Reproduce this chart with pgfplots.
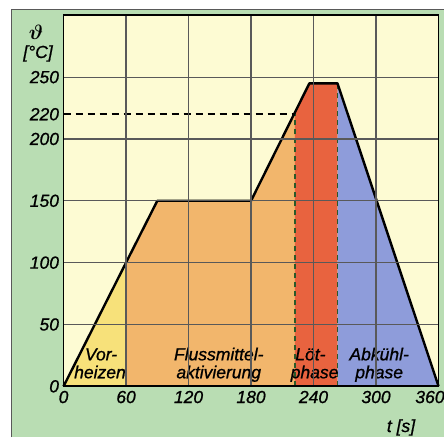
\documentclass[border=0pt]{standalone}
\usepackage{pgfplots}
\pgfplotsset{compat=1.18}
\usepackage{bm}
\usepackage{fontspec}
\setmainfont{Liberation Sans}
\newfontfamily\lfont{Liberation Sans}[UprightFeatures={FakeBold=0.9}, ItalicFeatures={FakeBold=0.9}]
\definecolor{bgy}{HTML}{FDFBD3}
\definecolor{bgg}{HTML}{B9DDB3}
\definecolor{fy}{HTML}{F7E17A}
\definecolor{fo}{HTML}{F2B66C}
\definecolor{fr}{HTML}{E8633F}
\definecolor{fb}{HTML}{8E9CDA}
\definecolor{dg}{HTML}{2A5A2A}
\newcommand{\lf}{\fontsize{17.5}{19}\lfont\itshape}
\begin{document}
\begin{tikzpicture}[x=1pt,y=1pt]
\path[use as bounding box] (0,0) rectangle (444,437);
\fill[white] (0,0) rectangle (444,437);
\fill[bgg] (11,0) rectangle (444,427);
\draw[gray!70!black, line width=1pt] (11,0) -- (11,427) -- (444,427);
\begin{axis}[
  at={(61,41)}, anchor=south west, scale only axis,
  width=375pt, height=371pt,
  xmin=0, xmax=360, ymin=0, ymax=300,
  xtick={0,60,120,180,240,300,360},
  xticklabels={0,60,120,180,240,300,\makebox[12pt][r]{360}},
  ytick={0,50,100,150,200,250},
  extra y ticks={220},
  extra y tick style={grid=none},
  grid=major,
  major grid style={draw=black!65, line width=1.1pt},
  tick style={draw=none},
  axis line style={line width=1.8pt, black},
  axis background/.style={fill=bgy},
  axis on top,
  /pgf/number format/assume math mode=true,
  ticklabel style={font=\lf},
  yticklabel style={xshift=-1pt},
  xticklabel style={yshift=-1pt},
  clip=false,
]
\addplot[fill=fy, draw=none] coordinates {(0,0) (60,100) (60,0)} -- cycle;
\addplot[fill=fo, draw=none] coordinates {(60,0) (60,100) (90,150) (180,150) (222,221.25) (222,0)} -- cycle;
\addplot[fill=fr, draw=none] coordinates {(222,0) (222,221.25) (236,245) (263,245) (263,0)} -- cycle;
\addplot[fill=fb, draw=none] coordinates {(263,0) (263,245) (360,0)} -- cycle;
% dashed guide lines
\addplot[black, line width=1.6pt, dash pattern=on 7pt off 5pt] coordinates {(0,220) (222,220)};
\addplot[black!75, line width=1.2pt, dash pattern=on 7pt off 5pt] coordinates {(0,150) (90,150)};
\addplot[black!75, line width=1.2pt, dash pattern=on 7pt off 5pt] coordinates {(0,100) (60,100)};
\addplot[dg, line width=1.5pt, dash pattern=on 5pt off 4pt] coordinates {(60,0) (60,100)};
\addplot[dg, line width=1.5pt, dash pattern=on 5pt off 4pt] coordinates {(222,0) (222,221)};
\addplot[dg, line width=1.5pt, dash pattern=on 5pt off 4pt] coordinates {(263,0) (263,245)};
% profile
\addplot[black, line width=2.4pt, line join=round] coordinates {(0,0) (90,150) (180,150) (236,245) (263,245) (360,0)};
% region labels
\node[anchor=base, font=\lf] at (axis cs:36,21) {Vor-};
\node[anchor=base, font=\lf] at (axis cs:35,6.5) {heizen};
\node[anchor=base, font=\lf] at (axis cs:149,21) {Flussmittel-};
\node[anchor=base, font=\lf] at (axis cs:149,6.5) {aktivierung};
\node[anchor=base, font=\lf] at (axis cs:237,21) {Löt-};
\node[anchor=base, font=\lf] at (axis cs:241,6.5) {phase};
\node[anchor=base, font=\lf] at (axis cs:303,21) {Abkühl-};
\node[anchor=base, font=\lf] at (axis cs:303,6.5) {phase};
\end{axis}
\node[font=\fontsize{20}{22}\selectfont] at (36,405) {$\bm{\vartheta}$};
\node[anchor=base, font=\lf] at (38,379) {[°C]};
\node[anchor=base, font=\lf] at (401,5) {t [s]};
\end{tikzpicture}
\end{document}
